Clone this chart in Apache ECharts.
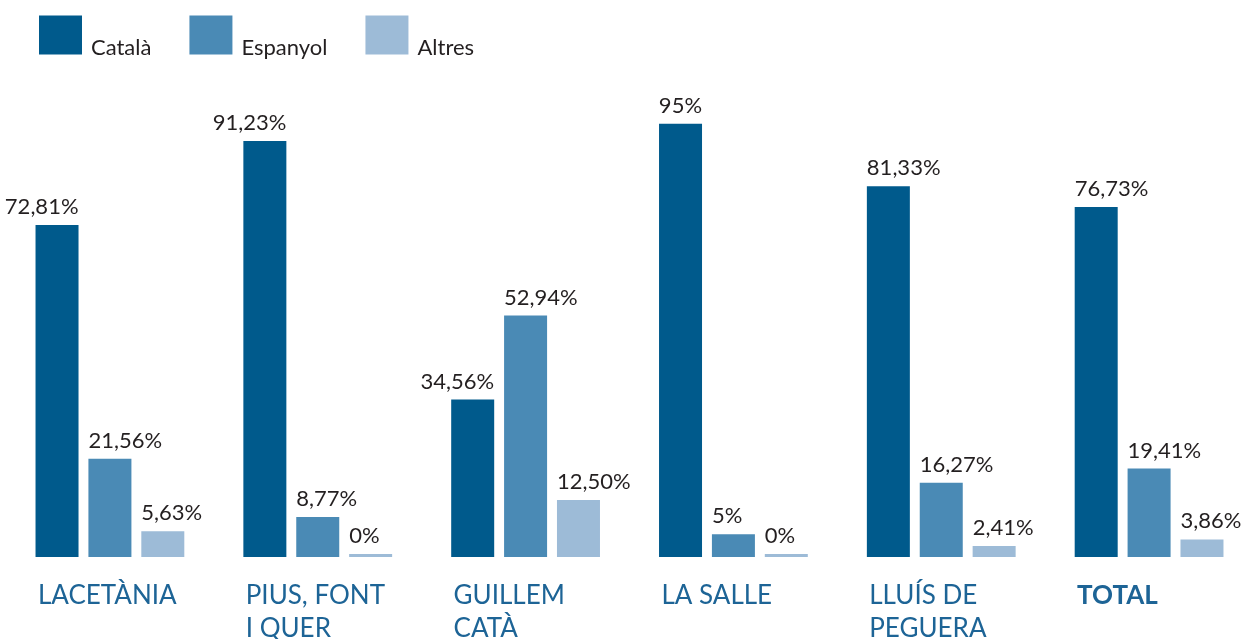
<!DOCTYPE html>
<html>
<head>
<meta charset="utf-8">
<script src="https://cdn.jsdelivr.net/npm/echarts@6/dist/echarts.min.js"></script>
<style>
  html, body { margin: 0; padding: 0; background: #fff; }
  #chart { width: 1255px; height: 639px; }
</style>
</head>
<body>
<div id="chart"></div>
<script>
// Schools (line breaks as in the printed chart)
const categories = ['LACETÀNIA', 'PIUS, FONT\nI QUER', 'GUILLEM\nCATÀ', 'LA SALLE', 'LLUÍS DE\nPEGUERA', 'TOTAL']
const seriesNames = ['Català', 'Espanyol', 'Altres']

const catala = [72.81, 91.23, 34.56, 95, 81.33, 76.73]
const espanyol = [21.56, 8.77, 52.94, 5, 16.27, 19.41]
const altres = [5.63, 0, 12.50, 0, 2.41, 3.86]

const colors = ['#005a8c', '#4a8ab5', '#9dbbd7']
const textColor = '#231f20'
const catColor = '#1d6496'
const font = 'Lato, "Noto Sans", sans-serif'

const fmtPct = v => (Number.isInteger(v) ? String(v) : v.toFixed(2).replace('.', ',')) + '%'

const baseLabel = {
  show: true,
  position: [0, -7],
  align: 'left',
  verticalAlign: 'bottom',
  color: textColor,
  fontFamily: font,
  fontSize: 22,
  formatter: p => fmtPct(p.value)
}

const makeSeries = (name, values, idx) => ({
  name,
  type: 'bar',
  barWidth: 43,
  barGap: '23%',
  barMinHeight: 3,
  itemStyle: { color: colors[idx] },
  label: baseLabel,
  // the first four "Català" labels sit flush with the bar's right edge
  data: values.map((v, i) => (idx === 0 && i < 4)
    ? { value: v, label: { position: ['100%', -7], align: 'right' } }
    : v)
})

const chart = echarts.init(document.getElementById('chart'))
chart.setOption({
  animation: false,
  backgroundColor: '#fff',
  legend: {
    left: 39,
    top: 9,
    padding: 0,
    itemWidth: 43,
    itemHeight: 39,
    itemGap: 38,
    icon: 'rect',
    data: seriesNames,
    // empty first line pushes the name down to the icon's bottom edge
    formatter: name => '\n' + name,
    textStyle: {
      color: textColor,
      fontFamily: font,
      fontSize: 22,
      lineHeight: 26,
      padding: [0, 0, 0, 4]
    }
  },
  grid: { left: 6, right: 2, top: 101, bottom: 82, outerBoundsMode: 'none' },
  xAxis: {
    type: 'category',
    data: categories,
    axisLine: { show: false },
    axisTick: { show: false },
    axisLabel: {
      interval: 0,
      margin: 22,
      formatter: (v, i) => v.split('\n').map(l => `{${i === 5 ? 'b' : 'n'}|${l}}`).join('\n'),
      rich: {
        n: { width: 144, align: 'left', fontSize: 26, lineHeight: 33, color: catColor, fontFamily: font },
        b: { width: 144, align: 'left', fontSize: 26, lineHeight: 33, color: catColor, fontFamily: font, fontWeight: 'bold' }
      }
    }
  },
  yAxis: {
    type: 'value',
    min: 0,
    max: 100,
    show: false,
    splitLine: { show: false }
  },
  series: [
    makeSeries(seriesNames[0], catala, 0),
    makeSeries(seriesNames[1], espanyol, 1),
    makeSeries(seriesNames[2], altres, 2)
  ]
})
</script>
</body>
</html>
